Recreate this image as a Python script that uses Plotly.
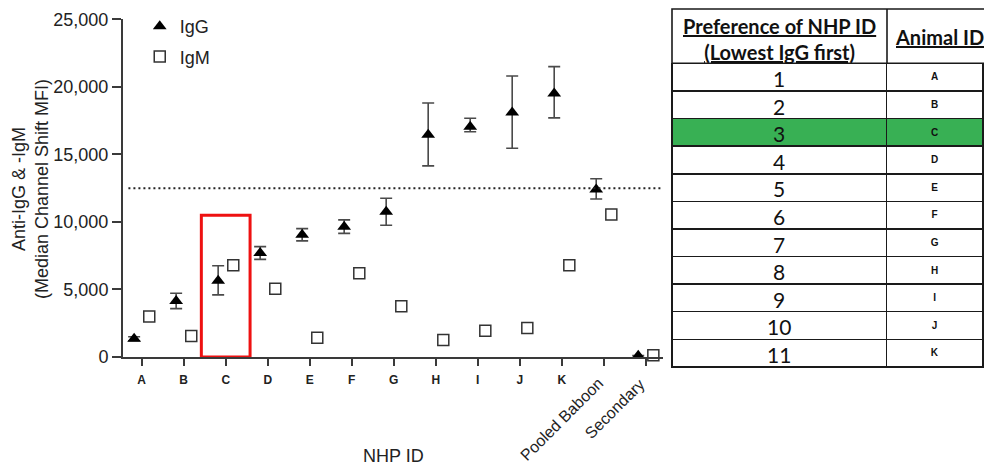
import plotly.graph_objects as go

# ---------------- data ----------------
categories = ["A", "B", "C", "D", "E", "F", "G", "H", "I", "J", "K",
              "Pooled Baboon", "Secondary"]
igg = [1350, 4150, 5650, 7700, 9050, 9650, 10750, 16450, 17050, 18100, 19500, 12400, 100]
igg_err_plus = [150, 570, 1100, 470, 450, 500, 1000, 2350, 620, 2700, 2000, 800, 0]
igg_err_minus = [150, 570, 1050, 470, 450, 500, 1000, 2300, 370, 2650, 1800, 700, 0]
igm = [3000, 1550, 6800, 5050, 1430, 6200, 3750, 1250, 1950, 2150, 6800, 10550, 130]
threshold = 12500
highlight_category = "C"
highlight_top = 10500
y_tick_values = [0, 5000, 10000, 15000, 20000, 25000]
rotated_labels = ["Pooled Baboon", "Secondary"]

table_rank = ["1", "2", "3", "4", "5", "6", "7", "8", "9", "10", "11"]
table_animal = ["A", "B", "C", "D", "E", "F", "G", "H", "I", "J", "K"]
table_header = ["Preference of NHP ID", "(Lowest IgG first)", "Animal ID"]

# ---------------- style ----------------
W, H = 984, 467
FONT = "Liberation Sans, Arial, sans-serif"
TFONT = "Lato, Carlito, sans-serif"
AXC = "#3a3a3a"
GREEN = "#38b054"
LINEC = "#1a1a1a"
OFF = 0.18

idx = list(range(len(categories)))
x_igg = [i - OFF for i in idx]
x_igm = [i + OFF for i in idx]

fig = go.Figure()

fig.add_trace(go.Scatter(
    x=x_igg, y=igg, mode="markers", name="IgG", legendgroup="g1",
    marker=dict(symbol="triangle-up", size=12, color="black"),
    error_y=dict(type="data", symmetric=False, array=igg_err_plus,
                 arrayminus=igg_err_minus, color="#4a4a4a", thickness=1.6, width=6),
    cliponaxis=False,
))
fig.add_trace(go.Scatter(
    x=x_igm, y=igm, mode="markers", name="IgM", legendgroup="g2",
    marker=dict(symbol="square", size=11, color="white",
                line=dict(color="#333333", width=1.5)),
    cliponaxis=False,
))

# ---------------- table ----------------
tab_x0, tab_split = 672, 887
tab_top, head_bot = 9, 63.3
ghost_h = 20  # invisible table header row, overlapping the drawn header box
n = len(table_rank)
hi_row = table_animal.index(highlight_category)
fills = [GREEN if i == hi_row else "white" for i in range(n)]
fig.add_trace(go.Table(
    domain=dict(x=[tab_x0 / W, 1.0], y=[0.02, 1 - (head_bot - ghost_h) / H]),
    columnwidth=[tab_split - tab_x0, W - tab_split],
    header=dict(values=["", ""], height=ghost_h,
                fill_color="rgba(0,0,0,0)",
                line=dict(color="rgba(0,0,0,0)", width=0),
                font=dict(size=1)),
    cells=dict(
        values=[table_rank, ["<b>%s</b>" % a for a in table_animal]],
        align="center", height=27.6,
        font=dict(family=[TFONT, FONT], size=[21, 10], color="#111111"),
        fill_color=[fills, fills],
        line=dict(color=LINEC, width=1.6),
    ),
))
# header box
fig.add_shape(type="rect", xref="paper", yref="paper",
              x0=tab_x0 / W, x1=1.02, y0=1 - head_bot / H, y1=1 - tab_top / H,
              line=dict(color=LINEC, width=1.6), fillcolor="white", layer="below")
fig.add_shape(type="line", xref="paper", yref="paper",
              x0=tab_split / W, x1=tab_split / W, y0=1 - head_bot / H, y1=1 - tab_top / H,
              line=dict(color=LINEC, width=1.6))
fig.add_annotation(x=(tab_x0 + tab_split) / 2 / W, y=1 - 39 / H, xref="paper", yref="paper",
                   text="<b><u>%s</u></b><br><b><u>%s</u></b>" % (table_header[0], table_header[1]),
                   showarrow=False, xanchor="center", yanchor="middle",
                   font=dict(family=TFONT, size=20, color="#111111"))
fig.add_annotation(x=939 / W, y=1 - 37 / H, xref="paper", yref="paper",
                   text="<b><u>%s</u></b>" % table_header[2],
                   showarrow=False, xanchor="center", yanchor="middle",
                   font=dict(family=TFONT, size=20, color="#111111"))

# ---------------- chart decorations ----------------
hx = categories.index(highlight_category)
fig.add_shape(type="rect", xref="x", yref="y",
              x0=hx - 0.58, x1=hx + 0.58, y0=0, y1=highlight_top,
              line=dict(color="#ee1111", width=3), fillcolor="rgba(0,0,0,0)")
fig.add_shape(type="line", xref="x domain", yref="y",
              x0=0.01, x1=1.0, y0=threshold, y1=threshold,
              line=dict(color="#222222", width=2, dash="2px,3px"))

for lab in rotated_labels:
    fig.add_annotation(x=categories.index(lab), xref="x", y=(H - 372) / H, yref="paper",
                       text=lab, showarrow=False, textangle=-45,
                       xanchor="right", yanchor="top", xshift=5,
                       font=dict(family=FONT, size=16, color="#222222"))

fig.add_annotation(x=31 / W, y=(H - 189) / H, xref="paper", yref="paper",
                   text="Anti-IgG & -IgM<br>(Median Channel Shift MFI)",
                   textangle=-90, showarrow=False, xanchor="center", yanchor="middle",
                   font=dict(family=FONT, size=18, color="#222222"))
fig.add_annotation(x=(123 + 663) / 2 / W, y=(H - 456) / H, xref="paper", yref="paper",
                   text="NHP ID", showarrow=False, xanchor="center", yanchor="middle",
                   font=dict(family=FONT, size=18, color="#222222"))

ticktext = ["<b>%s</b>" % c if c not in rotated_labels else "" for c in categories]

fig.update_layout(
    width=W, height=H,
    margin=dict(l=0, r=0, t=0, b=0),
    paper_bgcolor="white", plot_bgcolor="white",
    showlegend=True,
    legend=dict(x=0.142, y=1 - 8 / H, xanchor="left", yanchor="top",
                font=dict(family=FONT, size=18, color="#222222"),
                bgcolor="rgba(0,0,0,0)", tracegroupgap=4, traceorder="grouped"),
    xaxis=dict(domain=[123 / W, 663 / W], range=[-0.445, 12.41],
               tickmode="array", tickvals=idx, ticktext=ticktext,
               ticks="outside", ticklen=7, tickwidth=1.8, tickcolor=AXC,
               showline=True, linecolor=AXC, linewidth=2,
               showgrid=False, zeroline=False, automargin=False,
               ticklabelstandoff=4,
               tickfont=dict(family=FONT, size=12, color="#222222")),
    yaxis=dict(domain=[110 / H, 447.7 / H], range=[0, 25000],
               tickmode="array", tickvals=y_tick_values, tickformat=",",
               ticks="outside", ticklen=9, tickwidth=1.8, tickcolor=AXC,
               showline=True, linecolor=AXC, linewidth=2,
               showgrid=False, zeroline=False, automargin=False,
               tickfont=dict(family=FONT, size=18, color="#222222")),
)

fig.write_html("out.html", config={"displayModeBar": False},
               post_script="document.body.style.margin='0px';document.body.style.padding='0px';")
